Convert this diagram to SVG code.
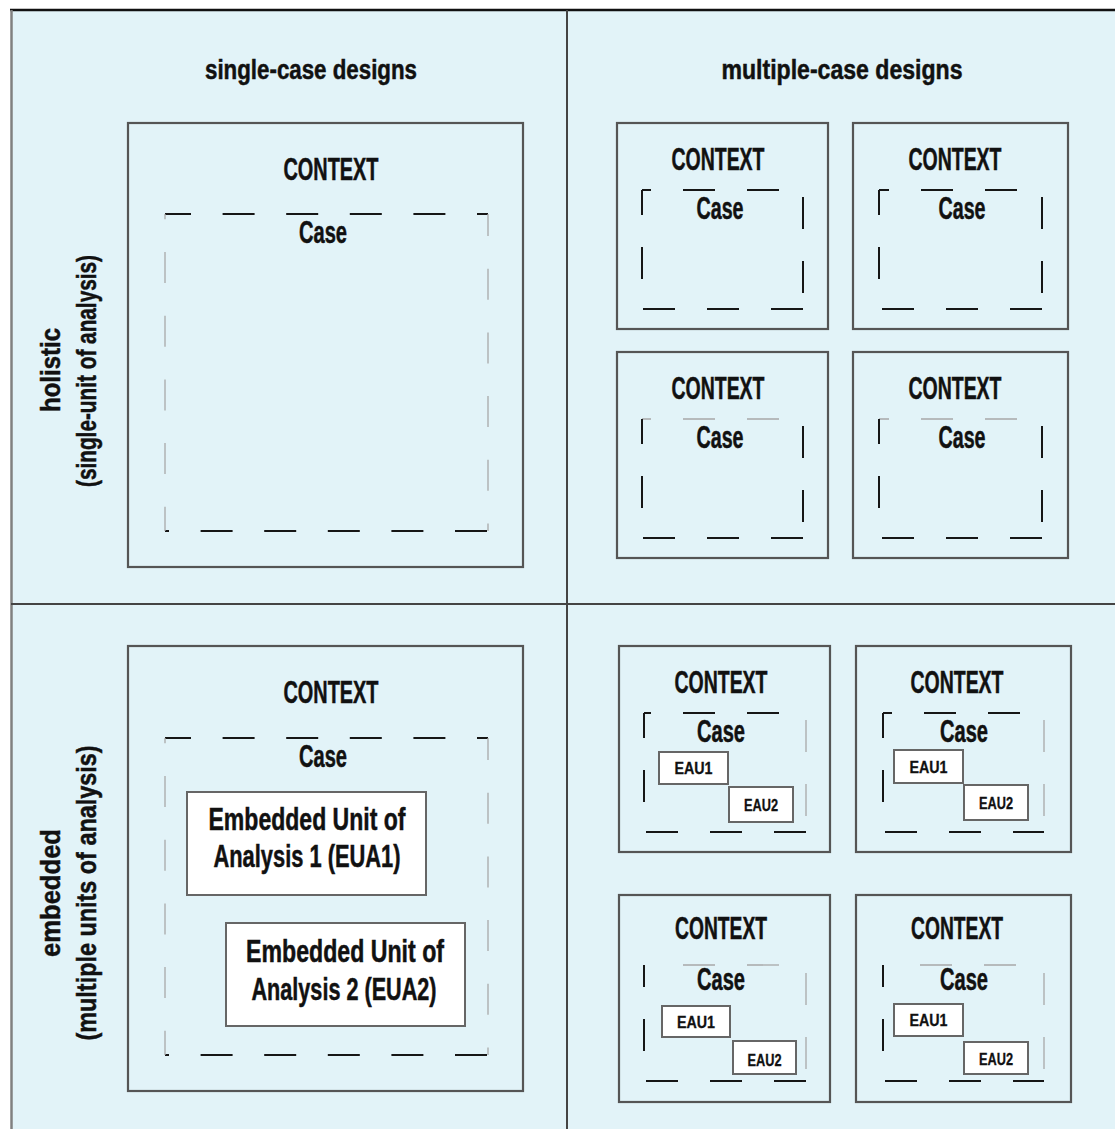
<svg xmlns="http://www.w3.org/2000/svg" width="1115" height="1129" viewBox="0 0 1115 1129">
<style>
.bg{fill:#e2f3f8}
.frame{fill:none;stroke:#555;stroke-width:2.2}
.t{font-family:"Liberation Sans",Arial,sans-serif;font-weight:bold;fill:#111;text-anchor:middle;stroke:#111;stroke-width:0.5}
.h{font-size:27px}
.ctx{font-size:31px}
.eau{font-size:16px;stroke-width:0.3}
.dk{stroke:#161616;stroke-width:2;fill:none}
.gy{stroke:#a8a8a8;stroke-width:1.3;fill:none}
.bd{stroke-dasharray:32 31.6}
.bg2{stroke-dasharray:31 32.7}
.sd{stroke-dasharray:32 32}
.wb{fill:#fff;stroke:#666;stroke-width:2}
.grid{stroke:#444;stroke-width:2}
</style>
<rect x="0" y="0" width="1115" height="1129" fill="#fff"/>
<rect class="bg" x="11" y="10" width="1104" height="1119"/>
<line x1="10" y1="10" x2="1115" y2="10" stroke="#111" stroke-width="2.5"/>
<line x1="11.5" y1="10" x2="11.5" y2="1129" stroke="#808080" stroke-width="2.5"/>

<g id="grid-lines">
<line class="grid" x1="567" y1="10" x2="567" y2="1129"/>
<line class="grid" x1="11" y1="604" x2="1115" y2="604"/>
</g>

<g id="headers">
<text class="t h" x="311" y="79" textLength="212" lengthAdjust="spacingAndGlyphs">single-case designs</text>
<text class="t h" x="842" y="79" textLength="241" lengthAdjust="spacingAndGlyphs">multiple-case designs</text>
</g>

<g id="row-labels">
<text class="t h" transform="translate(60,370) rotate(-90)" textLength="84" lengthAdjust="spacingAndGlyphs">holistic</text>
<text class="t h" transform="translate(96,371) rotate(-90)" textLength="232" lengthAdjust="spacingAndGlyphs">(single-unit of analysis)</text>
<text class="t h" transform="translate(60,893) rotate(-90)" textLength="128" lengthAdjust="spacingAndGlyphs">embedded</text>
<text class="t h" transform="translate(96,893) rotate(-90)" textLength="295" lengthAdjust="spacingAndGlyphs">(multiple units of analysis)</text>
</g>

<!-- single-case holistic -->
<g id="single-holistic" transform="translate(128,123)">
<rect class="frame" x="0" y="0" width="395" height="444"/>
<text class="t ctx" x="203" y="57" textLength="95" lengthAdjust="spacingAndGlyphs">CONTEXT</text>
<text class="t ctx" x="195" y="120" textLength="48" lengthAdjust="spacingAndGlyphs">Case</text>
<line class="dk bd" x1="37" y1="91" x2="360" y2="91" stroke-dashoffset="6"/>
<line class="dk bd" x1="37" y1="408" x2="360" y2="408" stroke-dashoffset="28"/>
<line class="gy bg2" x1="37" y1="91" x2="37" y2="408" stroke-dashoffset="25.7"/>
<line class="gy bg2" x1="360" y1="91" x2="360" y2="408" stroke-dashoffset="9"/>
</g>

<!-- single-case embedded -->
<g id="single-embedded" transform="translate(128,646)">
<rect class="frame" x="0" y="0" width="395" height="445"/>
<text class="t ctx" x="203" y="57" textLength="95" lengthAdjust="spacingAndGlyphs">CONTEXT</text>
<text class="t ctx" x="195" y="121" textLength="48" lengthAdjust="spacingAndGlyphs">Case</text>
<line class="dk bd" x1="37" y1="92" x2="360" y2="92" stroke-dashoffset="6"/>
<line class="dk bd" x1="37" y1="409" x2="360" y2="409" stroke-dashoffset="28"/>
<line class="gy bg2" x1="37" y1="92" x2="37" y2="409" stroke-dashoffset="25.7"/>
<line class="gy bg2" x1="360" y1="92" x2="360" y2="409" stroke-dashoffset="9"/>
<g id="eua1">
<rect class="wb" x="59" y="146" width="239" height="103"/>
<text class="t ctx" x="179" y="184" textLength="197" lengthAdjust="spacingAndGlyphs">Embedded Unit of</text>
<text class="t ctx" x="179" y="221" textLength="187" lengthAdjust="spacingAndGlyphs">Analysis 1 (EUA1)</text>
</g>
<g id="eua2">
<rect class="wb" x="98" y="277" width="239" height="103"/>
<text class="t ctx" x="217" y="316" textLength="198" lengthAdjust="spacingAndGlyphs">Embedded Unit of</text>
<text class="t ctx" x="216" y="354" textLength="185" lengthAdjust="spacingAndGlyphs">Analysis 2 (EUA2)</text>
</g>
</g>

<!-- multiple-case holistic -->
<g id="multi-holistic-1" transform="translate(617,123)">
<rect class="frame" x="0" y="0" width="211" height="206"/>
<text class="t ctx" x="101" y="47" textLength="93" lengthAdjust="spacingAndGlyphs">CONTEXT</text>
<text class="t ctx" x="103" y="96" textLength="47" lengthAdjust="spacingAndGlyphs">Case</text>
<line class="dk sd" x1="25" y1="67" x2="186" y2="67" stroke-dashoffset="23"/>
<line class="dk sd" x1="25" y1="67" x2="25" y2="186" stroke-dashoffset="7"/>
<line class="dk sd" x1="186" y1="67" x2="186" y2="186" stroke-dashoffset="57"/>
<line class="dk sd" x1="25" y1="186" x2="186" y2="186" stroke-dashoffset="63"/>
</g>
<g id="multi-holistic-2" transform="translate(853,123)">
<rect class="frame" x="0" y="0" width="215" height="206"/>
<text class="t ctx" x="102" y="47" textLength="93" lengthAdjust="spacingAndGlyphs">CONTEXT</text>
<text class="t ctx" x="109" y="96" textLength="47" lengthAdjust="spacingAndGlyphs">Case</text>
<line class="dk sd" x1="26" y1="67" x2="189" y2="67" stroke-dashoffset="22"/>
<line class="dk sd" x1="26" y1="67" x2="26" y2="186" stroke-dashoffset="7"/>
<line class="dk sd" x1="189" y1="67" x2="189" y2="186" stroke-dashoffset="57"/>
<line class="dk sd" x1="26" y1="186" x2="189" y2="186" stroke-dashoffset="61"/>
</g>
<g id="multi-holistic-3" transform="translate(617,352)">
<rect class="frame" x="0" y="0" width="211" height="206"/>
<text class="t ctx" x="101" y="47" textLength="93" lengthAdjust="spacingAndGlyphs">CONTEXT</text>
<text class="t ctx" x="103" y="96" textLength="47" lengthAdjust="spacingAndGlyphs">Case</text>
<line class="gy sd" x1="25" y1="67" x2="186" y2="67" stroke-dashoffset="23"/>
<line class="dk sd" x1="25" y1="67" x2="25" y2="186" stroke-dashoffset="7"/>
<line class="dk sd" x1="186" y1="67" x2="186" y2="186" stroke-dashoffset="57"/>
<line class="dk sd" x1="25" y1="186" x2="186" y2="186" stroke-dashoffset="63"/>
</g>
<g id="multi-holistic-4" transform="translate(853,352)">
<rect class="frame" x="0" y="0" width="215" height="206"/>
<text class="t ctx" x="102" y="47" textLength="93" lengthAdjust="spacingAndGlyphs">CONTEXT</text>
<text class="t ctx" x="109" y="96" textLength="47" lengthAdjust="spacingAndGlyphs">Case</text>
<line class="gy sd" x1="26" y1="67" x2="189" y2="67" stroke-dashoffset="22"/>
<line class="dk sd" x1="26" y1="67" x2="26" y2="186" stroke-dashoffset="7"/>
<line class="dk sd" x1="189" y1="67" x2="189" y2="186" stroke-dashoffset="57"/>
<line class="dk sd" x1="26" y1="186" x2="189" y2="186" stroke-dashoffset="61"/>
</g>

<!-- multiple-case embedded -->
<g id="multi-embedded-1" transform="translate(619,646)">
<rect class="frame" x="0" y="0" width="211" height="206"/>
<text class="t ctx" x="102" y="47" textLength="93" lengthAdjust="spacingAndGlyphs">CONTEXT</text>
<text class="t ctx" x="102" y="96" textLength="48" lengthAdjust="spacingAndGlyphs">Case</text>
<line class="dk sd" x1="25" y1="67" x2="187" y2="67" stroke-dashoffset="25"/>
<line class="dk sd" x1="25" y1="67" x2="25" y2="186" stroke-dashoffset="7"/>
<line class="gy sd" x1="187" y1="67" x2="187" y2="186" stroke-dashoffset="57"/>
<line class="dk sd" x1="25" y1="186" x2="187" y2="186" stroke-dashoffset="62"/>
<rect class="wb" x="40" y="106" width="69" height="32"/>
<text class="t eau" x="74.5" y="128" textLength="38" lengthAdjust="spacingAndGlyphs">EAU1</text>
<rect class="wb" x="110" y="141" width="64" height="35"/>
<text class="t eau" x="142" y="165" textLength="34" lengthAdjust="spacingAndGlyphs">EAU2</text>
</g>
<g id="multi-embedded-2" transform="translate(856,646)">
<rect class="frame" x="0" y="0" width="215" height="206"/>
<text class="t ctx" x="101" y="47" textLength="93" lengthAdjust="spacingAndGlyphs">CONTEXT</text>
<text class="t ctx" x="108" y="96" textLength="48" lengthAdjust="spacingAndGlyphs">Case</text>
<line class="dk sd" x1="27" y1="67" x2="188" y2="67" stroke-dashoffset="23"/>
<line class="dk sd" x1="27" y1="67" x2="27" y2="186" stroke-dashoffset="7"/>
<line class="gy sd" x1="188" y1="67" x2="188" y2="186" stroke-dashoffset="57"/>
<line class="dk sd" x1="27" y1="186" x2="188" y2="186" stroke-dashoffset="62"/>
<rect class="wb" x="38" y="104" width="69" height="33"/>
<text class="t eau" x="72.5" y="127" textLength="38" lengthAdjust="spacingAndGlyphs">EAU1</text>
<rect class="wb" x="108" y="139" width="64" height="35"/>
<text class="t eau" x="140" y="163" textLength="34" lengthAdjust="spacingAndGlyphs">EAU2</text>
</g>
<g id="multi-embedded-3" transform="translate(619,895)">
<rect class="frame" x="0" y="0" width="211" height="207"/>
<text class="t ctx" x="102" y="44" textLength="92" lengthAdjust="spacingAndGlyphs">CONTEXT</text>
<text class="t ctx" x="102" y="95" textLength="48" lengthAdjust="spacingAndGlyphs">Case</text>
<line class="gy sd" x1="64" y1="70" x2="187" y2="70"/>
<line class="dk sd" x1="25" y1="70" x2="25" y2="186" stroke-dashoffset="10"/>
<line class="gy sd" x1="187" y1="70" x2="187" y2="186" stroke-dashoffset="56"/>
<line class="dk sd" x1="25" y1="186" x2="187" y2="186" stroke-dashoffset="62"/>
<rect class="wb" x="43" y="111" width="68" height="31"/>
<text class="t eau" x="77" y="133" textLength="38" lengthAdjust="spacingAndGlyphs">EAU1</text>
<rect class="wb" x="114" y="146" width="63" height="33"/>
<text class="t eau" x="145.5" y="171" textLength="34" lengthAdjust="spacingAndGlyphs">EAU2</text>
</g>
<g id="multi-embedded-4" transform="translate(856,895)">
<rect class="frame" x="0" y="0" width="215" height="207"/>
<text class="t ctx" x="101" y="44" textLength="92" lengthAdjust="spacingAndGlyphs">CONTEXT</text>
<text class="t ctx" x="108" y="95" textLength="48" lengthAdjust="spacingAndGlyphs">Case</text>
<line class="gy sd" x1="64" y1="70" x2="188" y2="70"/>
<line class="dk sd" x1="27" y1="70" x2="27" y2="186" stroke-dashoffset="10"/>
<line class="gy sd" x1="188" y1="70" x2="188" y2="186" stroke-dashoffset="56"/>
<line class="dk sd" x1="27" y1="186" x2="188" y2="186" stroke-dashoffset="62"/>
<rect class="wb" x="38" y="109" width="69" height="32"/>
<text class="t eau" x="72.5" y="131" textLength="38" lengthAdjust="spacingAndGlyphs">EAU1</text>
<rect class="wb" x="108" y="147" width="64" height="32"/>
<text class="t eau" x="140" y="170" textLength="34" lengthAdjust="spacingAndGlyphs">EAU2</text>
</g>
</svg>
